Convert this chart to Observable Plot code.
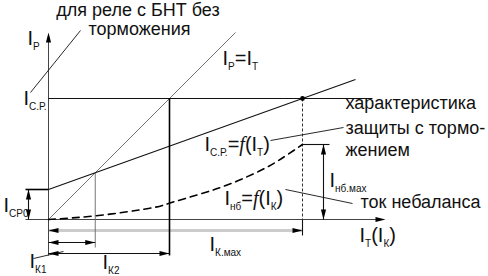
<!DOCTYPE html>
<html><head><meta charset="utf-8">
<script src="https://cdn.jsdelivr.net/npm/d3@7"></script>
<script src="https://cdn.jsdelivr.net/npm/@observablehq/plot@0.6"></script>
<style>body{margin:0;background:#fff} svg{display:block;background:#fff}</style>
</head><body><div id="chart"></div>
<script>
// ---- values (current units) ----
const I_CP = 12.1;        // operate current without restraint (I_С.Р.)
const I_CP0 = 3.0;        // minimum operate current (I_СР0)
const I_Kmax = 25.4;      // maximum external fault current
const I_nbMax = 7.5;      // maximum unbalance current
const slope = (I_CP - I_CP0) / I_Kmax;
const I_K1 = I_CP0 / (1 - slope);
const I_K2 = I_CP;
const unbalanceIK = [0, 5, 10, 12, 15, 18, 21, 23, 25.4];
const unbalanceI  = [0, 0.4, 1.1, 1.6, 2.5, 3.5, 4.8, 5.9, 7.5];
const axisEndX = 33.7, axisEndY = 18.7;

const unbalance = unbalanceIK.map((d, i) => ({x: d, y: unbalanceI[i]}));

// segments
const seg = (x1, y1, x2, y2) => ({x1, y1, x2, y2});
const axes = [seg(0, -3.6, 0, axisEndY - 0.5), seg(-2.3, 0, axisEndX - 0.5, 0)];
const thinGray = [seg(0, 0, 18.7, 18.7), seg(I_K1, I_K1, I_K1, -2.8)];
const darkLines = [
  seg(0, I_CP, 32.4, I_CP),
  seg(0, I_CP0, 30.7, I_CP0 + slope * 30.7),
  seg(I_Kmax, 0, I_Kmax, -1.6),
  seg(I_Kmax, I_nbMax, 28.1, I_nbMax),
  seg(27.5, I_nbMax, 27.5, 0),
  seg(-2.0, 0, -2.0, I_CP0),
  seg(0, -2.3, I_K1, -2.3),
  seg(0, -3.4, I_K2, -3.4)
];
const boldLines = [seg(-2.3, I_CP0, 0, I_CP0), seg(I_K2, I_CP, I_K2, -3.6)];
const leaders = [seg(3.2, 18.9, -1.8, 12.7), seg(22.2, 7.9, 29.5, 9.2), seg(23.7, 3.0, 30.4, 1.6), seg(-1.5, -3.9, 1.5, -3.2)];
const dashedV = [seg(I_Kmax, I_CP, I_Kmax, 0)];
const grayArrow = [seg(0, -1.1, I_Kmax, -1.1)];

const heads = [
  {x: 0, y: axisEndY, a: -90}, {x: axisEndX, y: 0, a: 0},
  {x: -2.0, y: I_CP0, a: -90}, {x: -2.0, y: 0, a: 90},
  {x: 27.5, y: I_nbMax, a: -90}, {x: 27.5, y: 0, a: 90},
  {x: 0, y: -1.1, a: 180}, {x: I_Kmax, y: -1.1, a: 0},
  {x: 0, y: -2.3, a: 180}, {x: I_K1, y: -2.3, a: 0},
  {x: 0, y: -3.4, a: 180}, {x: I_K2, y: -3.4, a: 0}
];
const arrowSymbol = {draw(ctx) { ctx.moveTo(0, 0); ctx.lineTo(-10, -2.6); ctx.lineTo(-10, 2.6); ctx.closePath(); }};

// labels
const titleLabels = [
  {t: "для реле с БНТ без", x: 8.95, y: 20.9},
  {t: "торможения", x: 9.1, y: 19.0}
];
const noteLabels = [
  {t: "характеристика", x: 29.7, y: 11.6},
  {t: "защиты с тормо-", x: 29.7, y: 9.1},
  {t: "жением", x: 29.7, y: 6.9},
  {t: "ток небаланса", x: 31.2, y: 1.7}
];
const richLabels = [
  {t: "I_{Р}", x: -2.1, y: 18.1},
  {t: "I_{С.Р.}", x: -2.5, y: 12.1},
  {t: "I_{Р}=I_{Т}", x: 17.4, y: 16.1},
  {t: "I_{С.Р.}=*f*(I_{Т})", x: 15.6, y: 7.5},
  {t: "I_{нб}=*f*(I_{К})", x: 17.6, y: 2.1},
  {t: "I_{нб.мах}", x: 28.1, y: 3.9},
  {t: "I_{Т}(I_{К})", x: 31.1, y: -1.6},
  {t: "I_{К.мах}", x: 16.1, y: -2.5},
  {t: "I_{К1}", x: -1.9, y: -4.2},
  {t: "I_{К2}", x: 5.4, y: -4.35},
  {t: "I_{СР0}", x: -4.5, y: 1.4}
];

const FONT = "Liberation Sans, Arial, sans-serif";
const L = (data, o) => Plot.link(data, {x1: "x1", y1: "y1", x2: "x2", y2: "y2", ...o});

const chart = Plot.plot({
  width: 488, height: 276, margin: 0,
  x: {type: "linear", domain: [-4.8, 44], range: [0, 488], axis: null},
  y: {type: "linear", domain: [-5.7, 21.9], range: [276, 0], axis: null},
  style: {background: "#fff"},
  marks: [
    L(grayArrow, {stroke: "#cccccc", strokeWidth: 3}),
    L(axes, {stroke: "#444", strokeWidth: 1}),
    L(thinGray, {stroke: "#666", strokeWidth: 0.9}),
    L(darkLines, {stroke: "#111", strokeWidth: 1.1}),
    L(boldLines, {stroke: "#000", strokeWidth: 1.6}),
    L(dashedV, {stroke: "#333", strokeWidth: 1, strokeDasharray: "3,2"}),
    L(leaders, {stroke: "#111", strokeWidth: 0.9}),
    Plot.line(unbalance, {x: "x", y: "y", curve: "natural", stroke: "#000", strokeWidth: 1.6, strokeDasharray: "7,5"}),
    Plot.dot(heads, {x: "x", y: "y", rotate: "a", symbol: arrowSymbol, fill: "#000", stroke: "none", r: 3}),
    Plot.dot([{x: I_Kmax, y: I_CP}], {x: "x", y: "y", r: 2.4, fill: "#000"}),
    Plot.text(titleLabels, {x: "x", y: "y", text: "t", textAnchor: "middle", fontSize: 18, fontFamily: FONT, fill: "#111"}),
    Plot.text(noteLabels, {x: "x", y: "y", text: "t", textAnchor: "start", fontSize: 18, fontFamily: FONT, fill: "#111"}),
    Plot.text(richLabels, {x: "x", y: "y", text: "t", textAnchor: "start", fontSize: 20, fontFamily: FONT, fill: "#111"})
  ]
});

// Convert the labels' markup into subscript/italic tspans
const NS = "http://www.w3.org/2000/svg";
chart.querySelectorAll("text").forEach(t => {
  const s = t.textContent;
  if (!s.includes("_{")) return;
  t.textContent = "";
  const re = /_\{([^}]*)\}|\*([^*]*)\*|([^_*]+)/g;
  let m, shifted = false;
  while ((m = re.exec(s))) {
    const ts = document.createElementNS(NS, "tspan");
    if (m[1] != null) {
      ts.textContent = m[1]; ts.setAttribute("font-size", 10); ts.setAttribute("dy", 5); shifted = true;
    } else {
      if (m[2] != null) { ts.textContent = m[2]; ts.setAttribute("font-family", "Liberation Serif, serif"); ts.setAttribute("font-style", "italic"); }
      else ts.textContent = m[3];
      if (shifted) { ts.setAttribute("dy", -5); shifted = false; }
    }
    t.appendChild(ts);
  }
});
document.getElementById("chart").appendChild(chart);
</script></body></html>
